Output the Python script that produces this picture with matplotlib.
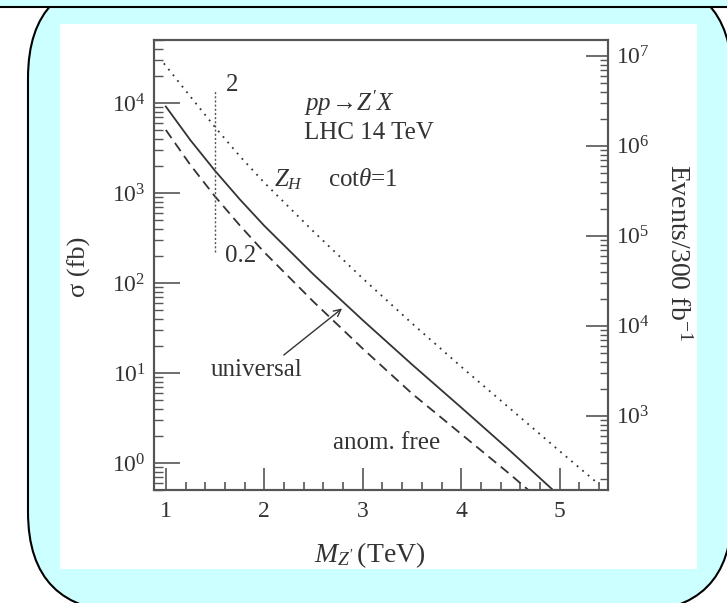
import numpy as np
import matplotlib
matplotlib.use('Agg')
import matplotlib.pyplot as plt
from matplotlib.patches import FancyBboxPatch, Rectangle
from matplotlib.ticker import LogLocator, NullFormatter, MultipleLocator

plt.rcParams['font.family'] = ['Liberation Serif', 'DejaVu Serif']
plt.rcParams['mathtext.fontset'] = 'custom'
plt.rcParams['mathtext.rm'] = 'Liberation Serif'
plt.rcParams['mathtext.it'] = 'Liberation Serif:italic'
plt.rcParams['mathtext.bf'] = 'Liberation Serif:bold'

# Z' mass (TeV) and production cross section (fb), LHC 14 TeV
m_universal = [1.0, 1.25, 1.5, 1.75, 2.0, 2.5, 3.0, 3.5, 4.0, 4.5, 4.94]
sig_universal = [9120, 3850, 1760, 851, 431, 124, 38.5, 12.4, 4.12, 1.35, 0.49]

m_anomfree = [1.0, 1.25, 1.5, 1.75, 2.0, 2.5, 3.0, 3.5, 4.0, 4.5, 4.7]
sig_anomfree = [5010, 2040, 912, 437, 219, 61.7, 18.6, 5.89, 2.09, 0.74, 0.48]

m_zh = [0.98, 1.25, 1.5, 1.75, 2.0, 2.5, 3.0, 3.5, 4.0, 4.5, 5.0, 5.4]
sig_zh = [27500, 11750, 5370, 2570, 1300, 372, 112, 35.5, 11.7, 3.98, 1.35, 0.575]

# spread of the cross section for cot(theta) from 0.2 to 2
cot_mass = 1.5
cot_sigma = [220, 13900]

lumi = 300  # fb^-1, for the events axis

INK = '#333333'
GREY = '#555555'
CYAN = '#ccffff'

fig = plt.figure(figsize=(7.27, 6.03), dpi=100)

# slide frame behind the plot
bg = fig.add_axes([0, 0, 1, 1])
bg.set_xlim(0, 727)
bg.set_ylim(603, 0)
bg.axis('off')
bg.add_patch(FancyBboxPatch((28, -22), 704, 634,
                            boxstyle='round,pad=0,rounding_size=100',
                            fc=CYAN, ec='black', lw=1.5))
bg.add_patch(Rectangle((0, 0), 727, 6.5, fc=CYAN, ec='none'))
bg.plot([0, 727], [6.5, 6.5], color='black', lw=1.5)
bg.add_patch(Rectangle((60, 24), 637, 545, fc='white', ec='none'))

ax = fig.add_axes([154 / 727, 1 - 490 / 603, 454 / 727, 450 / 603])
ax.set_yscale('log')
ax.set_xlim(0.88, 5.49)
ax.set_ylim(0.5, 5e4)

ax.plot(m_universal, sig_universal, color=INK, lw=1.3)
ax.plot(m_anomfree, sig_anomfree, color=INK, lw=1.3, ls=(0, (5.5, 3.3)))
ax.plot(m_zh, sig_zh, color=INK, lw=1.3, ls=(0, (1, 3)))
ax.plot([cot_mass, cot_mass], cot_sigma, color=GREY, lw=1.0,
        ls=(0, (1.5, 1.5)))

for s in ax.spines.values():
    s.set_color(GREY)
    s.set_linewidth(1.5)

ax.xaxis.set_major_locator(MultipleLocator(1))
ax.xaxis.set_minor_locator(MultipleLocator(0.2))
ax.yaxis.set_major_locator(LogLocator(base=10, numticks=20))
ax.yaxis.set_minor_locator(LogLocator(base=10, subs=np.arange(2, 10), numticks=20))
ax.yaxis.set_minor_formatter(NullFormatter())
ax.tick_params(axis='x', which='major', direction='in', length=16, width=1.2,
               color=GREY, top=False, pad=8, labelsize=17, labelcolor=INK)
ax.tick_params(axis='x', which='minor', direction='in', length=6, width=1.2,
               color=GREY, top=False)
ax.tick_params(axis='y', which='major', direction='in', length=19, width=1.2,
               color=GREY, right=False, pad=6, labelsize=17, labelcolor=INK)
ax.tick_params(axis='y', which='minor', direction='in', length=6.5, width=1.0,
               color=GREY, right=False)

# events axis on the right
ax2 = ax.twinx()
ax2.set_yscale('log')
lo, hi = ax.get_ylim()
ax2.set_ylim(lo * lumi, hi * lumi)
ax2.yaxis.set_major_locator(LogLocator(base=10, numticks=20))
ax2.yaxis.set_minor_locator(LogLocator(base=10, subs=np.arange(2, 10), numticks=20))
ax2.yaxis.set_minor_formatter(NullFormatter())
ax2.tick_params(axis='y', which='major', direction='in', length=16, width=1.2,
                color=GREY, pad=6, labelsize=17, labelcolor=INK)
ax2.tick_params(axis='y', which='minor', direction='in', length=6, width=1.0,
                color=GREY)
for s in ax2.spines.values():
    s.set_color(GREY)
    s.set_linewidth(1.5)

ax.set_xlabel(r"$M_{Z'}\,$(TeV)", fontsize=20, color=INK)
ax.xaxis.set_label_coords(0.476, -0.112)
ax.set_ylabel('σ (fb)', fontsize=19, color=INK)
ax.yaxis.set_label_coords(-0.139, 0.496)
ax2.set_ylabel(r'Events/300 fb$^{-1}$', fontsize=20, color=INK, rotation=-90,
               va='center')
ax2.yaxis.set_label_coords(1.154, 0.529)

fs = 18
ax.text(2.40, 1.0e4, r"$pp\!\rightarrow\!Z'X$", fontsize=fs, color=INK, va='center')
ax.text(2.40, 4640, 'LHC 14 TeV', fontsize=fs, color=INK, va='center')
ax.text(2.10, 1390, r'$Z_H$', fontsize=fs, color=INK, va='center')
ax.text(2.645, 1390, r'cot$\theta$=1', fontsize=fs, color=INK, va='center')
ax.text(1.61, 15800, '2', fontsize=fs, color=INK, va='center')
ax.text(1.60, 200, '0.2', fontsize=fs, color=INK, va='center')
ax.text(1.457, 10.8, 'universal', fontsize=fs, color=INK, va='center')
ax.text(2.70, 1.67, 'anom. free', fontsize=fs, color=INK, va='center')
ax.annotate('', xy=(2.79, 52), xytext=(2.198, 15.8),
            arrowprops=dict(arrowstyle='->,head_length=0.5,head_width=0.25',
                            color=INK, lw=1.0, shrinkA=0, shrinkB=0))

fig.savefig('out.png', dpi=100)
